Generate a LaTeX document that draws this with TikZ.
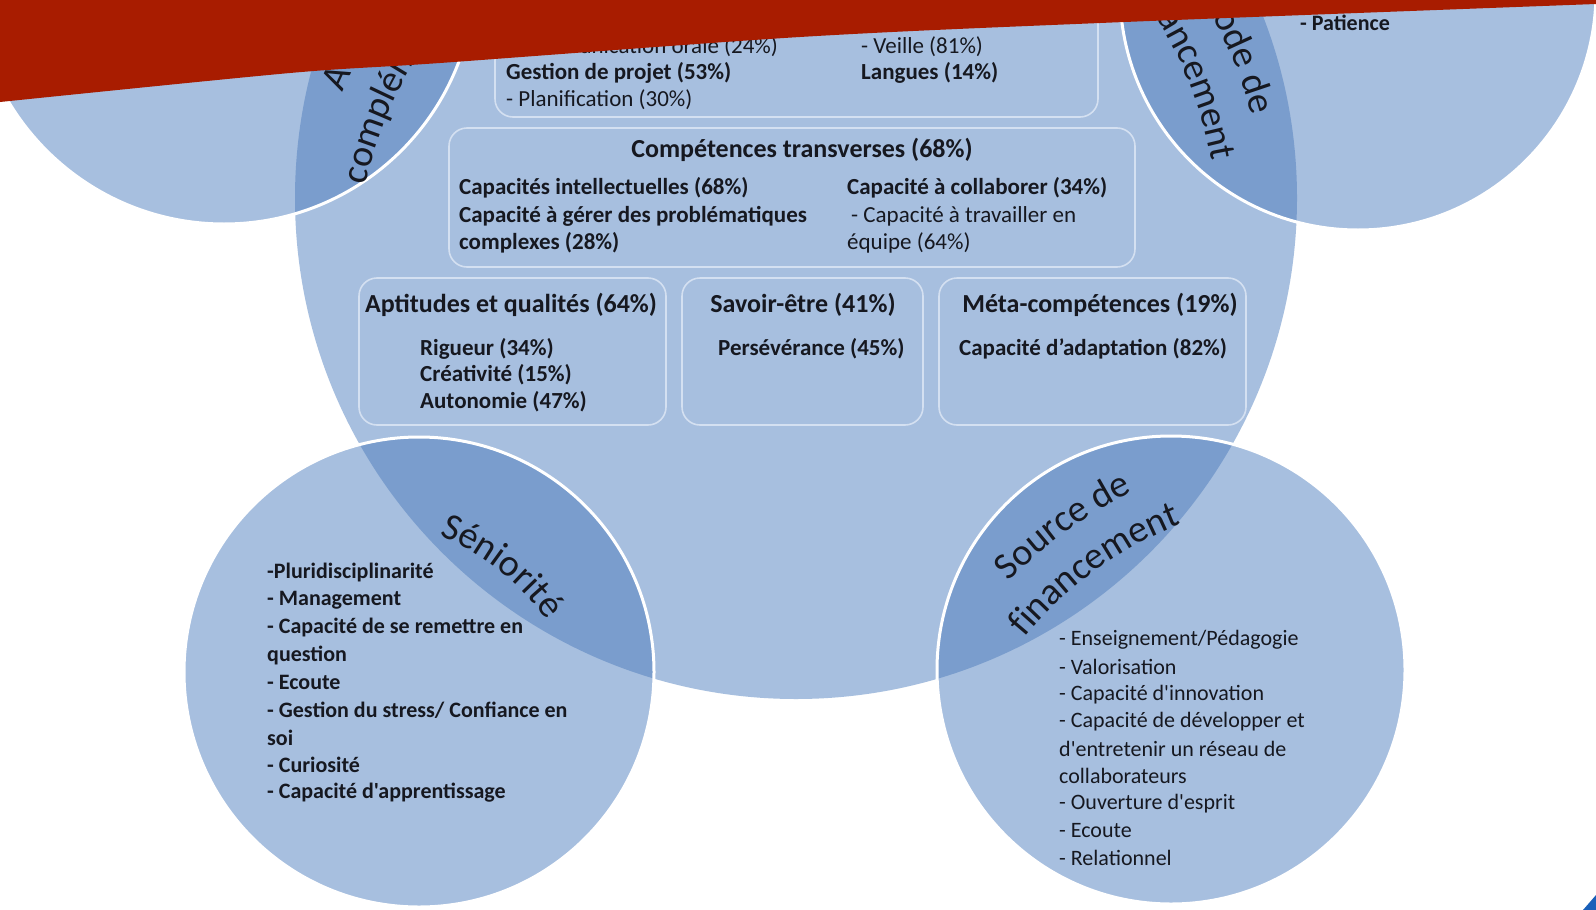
\documentclass[tikz,border=0pt]{standalone}
\usepackage{fontspec}
\setmainfont{Carlito}
\newfontfamily\cfont{Carlito}
\usetikzlibrary{decorations.text}
\definecolor{circ}{RGB}{167,191,223}
\definecolor{lens}{RGB}{122,157,205}
\definecolor{boxline}{RGB}{212,224,241}
\definecolor{ink}{RGB}{22,24,32}
\definecolor{redb}{RGB}{168,28,0}
\definecolor{cornerblue}{RGB}{25,95,185}
\newcommand\labfont{\cfont\fontsize{38}{46}\selectfont}
\tikzset{
  bx/.style={draw=boxline, line width=1.6pt, rounded corners=18pt},
  tb/.style={font=\cfont\bfseries\fontsize{23}{27}\selectfont, text=ink, inner sep=0pt, anchor=west},
  tr/.style={font=\cfont\fontsize{23}{27}\selectfont, text=ink, inner sep=0pt, anchor=west},
  th/.style={font=\cfont\bfseries\fontsize{26}{30}\selectfont, text=ink, inner sep=0pt},
  lb/.style={font=\cfont\bfseries\fontsize{22}{27}\selectfont, text=ink, inner sep=0pt, anchor=west},
  lr/.style={font=\cfont\fontsize{22}{27}\selectfont, text=ink, inner sep=0pt, anchor=west},
  sat/.style={fill=circ},
  rim/.style={draw=white, line width=3pt},
  arch/.style={decorate, decoration={text along path, text color=ink, text align=center, text={|\labfont|#1}}}
}
\begin{document}
\begin{tikzpicture}[x=1pt,y=1pt]
\useasboundingbox (0,0) rectangle (1596,-910);
\fill[white] (0,0) rectangle (1596,-910);
% circles
\fill[circ] (796,-198) circle[radius=501pt];
\fill[sat] (224,27) circle[radius=251pt];
\fill[sat] (1358,8) circle[radius=238pt];
\fill[sat] (419,-672) circle[radius=235pt];
\fill[sat] (1171,-670) circle[radius=234pt];
\begin{scope}
  \clip (796,-198) circle[radius=501pt];
  \fill[lens] (224,27) circle[radius=251pt];
  \fill[lens] (1358,8) circle[radius=238pt];
  \fill[lens] (419,-672) circle[radius=235pt];
  \fill[lens] (1171,-670) circle[radius=234pt];
\end{scope}
\draw[rim] (224,27) circle[radius=251pt];
\draw[rim] (1358,8) circle[radius=238pt];
\draw[rim] (419,-672) circle[radius=235pt];
\draw[rim] (1171,-670) circle[radius=234pt];
% lens labels
\path[arch={Séniorité}] ([shift={(87:242pt)}]350,-761) arc[start angle=87, end angle=17, radius=242pt];
\path[arch={Source de}] ([shift={(151:436pt)}]1323,-884) arc[start angle=151, end angle=101, radius=436pt];
\path[arch={financement}] ([shift={(151:387pt)}]1323,-884) arc[start angle=151, end angle=101, radius=387pt];
\path[arch={Activités}] ([shift={(178:437pt)}]744,-266) arc[start angle=178, end angle=118, radius=437pt];
\path[arch={complémentaires}] ([shift={(178:387pt)}]744,-266) arc[start angle=178, end angle=118, radius=387pt];
\path[arch={Période de}] ([shift={(55.5:452pt)}]815,-232) arc[start angle=55.5, end angle=-4.5, radius=452pt];
\path[arch={financement}] ([shift={(54:403pt)}]815,-232) arc[start angle=54, end angle=-6, radius=403pt];
% boxes
\draw[bx] (495,-5) rectangle (1098,-117);
\draw[bx] (449,-128) rectangle (1135,-267);
\draw[bx] (359,-278) rectangle (666,-425);
\draw[bx] (682,-278) rectangle (923,-425);
\draw[bx] (939,-278) rectangle (1246,-425);
% top box
\node[tr] (comm) at (506,-47) {- Communication orale (24\%)};
\node[tb] (gest) at (506,-73) {Gestion de projet (53\%)};
\node[tr] (plan) at (506,-100) {- Planification (30\%)};
\node[tr] (veil) at (861,-47) {- Veille (81\%)};
\node[tb] (lang) at (861,-73) {Langues (14\%)};
% transverses
\node[th] (trans) at (802,-150) {Compétences transverses (68\%)};
\node[tb] (intel) at (459,-188) {Capacités intellectuelles (68\%)};
\node[tb] (gerer) at (459,-216) {Capacité à gérer des problématiques};
\node[tb] (cplx) at (459,-243) {complexes (28\%)};
\node[tb] (coll) at (847,-188) {Capacité à collaborer (34\%)};
\node[tr] (trav) at (851,-216) {- Capacité à travailler en};
\node[tr] (equi) at (847,-243) {équipe (64\%)};
% third row
\node[th] (apt) at (511,-305) {Aptitudes et qualités (64\%)};
\node[th] (sav) at (803,-305) {Savoir-être (41\%)};
\node[th] (meta) at (1100,-305) {Méta-compétences (19\%)};
\node[tb] (rig) at (420,-349) {Rigueur (34\%)};
\node[tb] (crea) at (420,-375) {Créativité (15\%)};
\node[tb] (auto) at (420,-402) {Autonomie (47\%)};
\node[tb] (pers) at (718,-349) {Persévérance (45\%)};
\node[tb] (adap) at (959,-349) {Capacité d’adaptation (82\%)};
% lists
\foreach \t [count=\i] in {{-Pluridisciplinarité},{- Management},{- Capacité de se remettre en},{question},{- Ecoute},{- Gestion du stress/ Confiance en},{soi},{- Curiosité},{- Capacité d'apprentissage}}
  \node[lb] (sen\i) at (267,{-573-27.4*(\i-1)}) {\t};
\foreach \t [count=\i] in {{- Enseignement/Pédagogie},{- Valorisation},{- Capacité d'innovation},{- Capacité de développer et},{d'entretenir un réseau de},{collaborateurs},{- Ouverture d'esprit},{- Ecoute},{- Relationnel}}
  \node[lr] (src\i) at (1059,{-640-27.25*(\i-1)}) {\t};
\node[lb] (pat) at (1300,-23) {- Patience};
% corner mark
\fill[cornerblue] (1583,-910) -- (1596,-895) -- (1596,-910) -- cycle;
% red banner
\fill[redb] (-2,2) -- (-2,-102) -- plot[smooth] coordinates {(0,-102) (290,-73) (440,-63) (800,-37) (1100,-23) (1596,-4)} -- (1598,-4) -- (1598,2) -- cycle;
\end{tikzpicture}
\end{document}
